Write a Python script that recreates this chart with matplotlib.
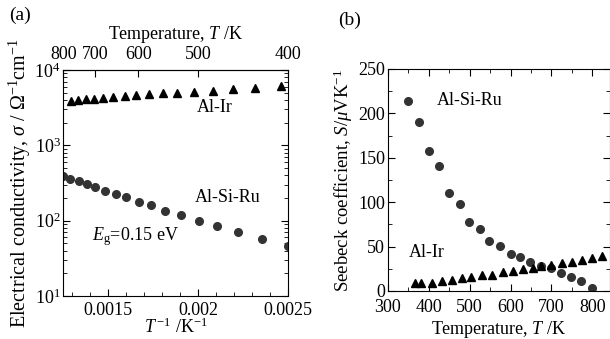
import numpy as np
import matplotlib
matplotlib.use('Agg')
import matplotlib.pyplot as plt
from matplotlib.ticker import MultipleLocator, FixedLocator, NullLocator

plt.rcParams['font.family'] = ['Liberation Serif', 'DejaVu Serif']
plt.rcParams['mathtext.fontset'] = 'custom'
plt.rcParams['mathtext.rm'] = 'Liberation Serif'
plt.rcParams['mathtext.it'] = 'Liberation Serif:italic'
plt.rcParams['mathtext.bf'] = 'Liberation Serif:bold'
plt.rcParams['font.size'] = 13

# (a) electrical conductivity vs 1/T
inv_t_alir = [0.001291, 0.001333, 0.001376, 0.001422, 0.001472, 0.001528, 0.001591, 0.001652,
              0.001726, 0.001802, 0.001883, 0.001976, 0.002080, 0.002194, 0.002315, 0.002459]
sigma_alir = [3900, 3980, 4100, 4140, 4270, 4365, 4500, 4590,
              4740, 4890, 4980, 5140, 5300, 5530, 5700, 6120]

inv_t_alsiru = [0.001248, 0.001289, 0.001335, 0.001382, 0.001428, 0.001483, 0.001543, 0.001600,
                0.001668, 0.001739, 0.001817, 0.001904, 0.002002, 0.002104, 0.002218, 0.002354,
                0.002496]
sigma_alsiru = [386, 360, 334, 308, 284, 251, 227, 205, 179, 162, 136, 120, 100, 86, 70, 58, 46]

top_temps = [800, 700, 600, 500, 400]

# (b) Seebeck coefficient vs T
t_alsiru = [350, 375, 400, 425, 450, 475, 499, 524, 548, 574, 600, 624, 648, 674, 699, 723,
            747, 772, 799]
s_alsiru = [214.3, 190.3, 158, 141, 110.7, 97.6, 77.4, 69.5, 56.3, 50.7, 41.7, 37.9, 33.0,
            28.5, 25.6, 20.6, 16.1, 11.3, 3.0]

t_alir = [366, 382, 407, 431, 456, 480, 504, 531, 555, 581, 605, 630, 654, 674, 699, 725,
          750, 774, 799, 823]
s_alir = [8.7, 8.7, 8.7, 11.6, 12.4, 14.3, 15.4, 17.7, 18.4, 21.8, 22.9, 24.5, 26.2, 28.2,
          29.3, 31.2, 33.0, 34.9, 36.8, 39.4]

fig = plt.figure(figsize=(6.1, 3.39), dpi=100)

# ---------------- panel (a) ----------------
ax1 = fig.add_axes([0.1038, 0.1268, 0.3689, 0.6667])
ax1.set_yscale('log')
ax1.plot(inv_t_alir, sigma_alir, linestyle='none', marker='^', color='black', markersize=6)
ax1.plot(inv_t_alsiru, sigma_alsiru, linestyle='none', marker='o', color='#333333', markersize=5.5)
ax1.set_xlim(0.00125, 0.0025)
ax1.set_ylim(10, 1e4)
ax1.xaxis.set_major_locator(FixedLocator([0.0015, 0.002, 0.0025]))
ax1.xaxis.set_minor_locator(MultipleLocator(0.0001))
ax1.set_xticklabels(['0.0015', '0.002', '0.0025'])
ax1.tick_params(which='both', direction='in', right=True, top=False)
ax1.tick_params(axis='x', which='major', length=5, pad=4)
ax1.tick_params(axis='x', which='minor', length=3)
ax1.tick_params(axis='y', which='major', length=5, pad=2)
ax1.tick_params(axis='y', which='minor', length=3)
ax1.set_xlabel(r'$T^{\,\mathregular{-1}}$ /K$^{\mathregular{-1}}$', labelpad=-1)
ax1.set_ylabel(r'Electrical conductivity, $\sigma$ / $\Omega^{-1}$cm$^{-1}$',
               fontsize=14.5, labelpad=1)

inv = lambda x: 1.0 / np.where(x == 0, np.nan, x)
top = ax1.secondary_xaxis('top', functions=(inv, inv))
top.xaxis.set_major_locator(FixedLocator(top_temps))
top.xaxis.set_minor_locator(NullLocator())
top.tick_params(direction='in', length=5, pad=5)
top.set_xlabel(r'Temperature, $T$ /K', labelpad=5)

ax1.text(0.002093, 3210, 'Al-Ir', ha='center', va='center')
ax1.text(0.002165, 203, 'Al-Si-Ru', ha='center', va='center')
ax1.text(0.001648, 61, r'$E_{\mathregular{g}}$=0.15 eV', ha='center', va='center')
fig.text(0.033, 0.955, '(a)', ha='center', va='center', fontsize=14)

# ---------------- panel (b) ----------------
ax2 = fig.add_axes([0.636, 0.1416, 0.3639, 0.6549])
ax2.plot(t_alsiru, s_alsiru, linestyle='none', marker='o', color='#333333', markersize=5.5)
ax2.plot(t_alir, s_alir, linestyle='none', marker='^', color='black', markersize=6)
ax2.set_xlim(300, 843)
ax2.set_ylim(0, 250)
ax2.xaxis.set_major_locator(MultipleLocator(100))
ax2.xaxis.set_minor_locator(MultipleLocator(50))
ax2.yaxis.set_major_locator(MultipleLocator(50))
ax2.yaxis.set_minor_locator(MultipleLocator(25))
ax2.tick_params(which='both', direction='in', top=True, right=True)
ax2.tick_params(which='major', length=5)
ax2.tick_params(which='minor', length=3)
ax2.tick_params(axis='x', pad=6)
ax2.tick_params(axis='y', pad=2)
ax2.set_xlabel(r'Temperature, $T$ /K', labelpad=2)
ax2.set_ylabel(r'Seebeck coefficient, $S$/$\mu$VK$^{\mathregular{-1}}$', fontsize=13.5, labelpad=2)

ax2.text(500, 215, 'Al-Si-Ru', ha='center', va='center')
ax2.text(395, 43, 'Al-Ir', ha='center', va='center')
fig.text(0.573, 0.94, '(b)', ha='center', va='center', fontsize=14)

for ax in (ax1, ax2):
    for s in ax.spines.values():
        s.set_linewidth(0.8)

fig.savefig('out.png', dpi=100)
